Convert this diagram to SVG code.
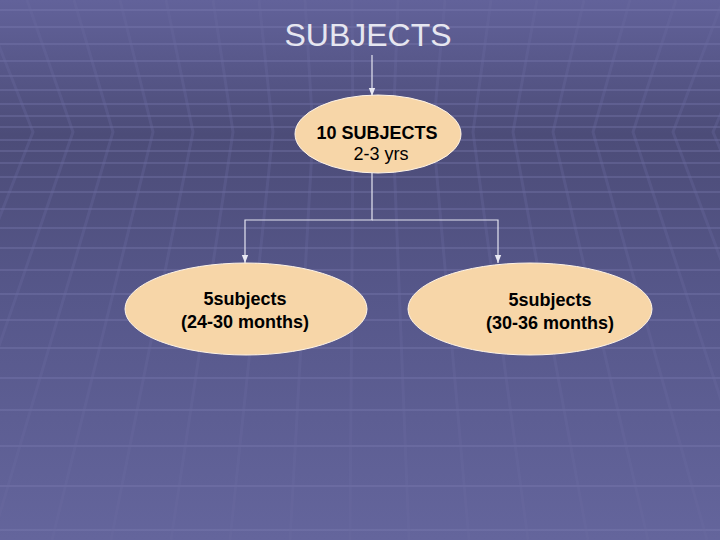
<svg xmlns="http://www.w3.org/2000/svg" width="720" height="540" viewBox="0 0 720 540">
<defs>
<linearGradient id="bg" x1="0" y1="0" x2="0" y2="1">
<stop offset="0" stop-color="#62629a"/>
<stop offset="0.25" stop-color="#4c4c78"/>
<stop offset="0.55" stop-color="#56578a"/>
<stop offset="1" stop-color="#64659c"/>
</linearGradient>
<marker id="arr" viewBox="0 0 8 8" refX="8" refY="4" markerWidth="8" markerHeight="8" markerUnits="userSpaceOnUse" orient="auto">
<path d="M0,0.8 L8,4 L0,7.2 Z" fill="#e8e8f2"/>
</marker>
<style>
.grid-h{stroke:#8282b8;stroke-width:1.5;opacity:0.4;fill:none}
.grid-v{stroke:#6c6ca2;stroke-width:3;opacity:0.3;fill:none}
.conn{stroke:#e4e4f0;stroke-width:1.2;fill:none}
.node{fill:#f7d6a8;stroke:#fff4e6;stroke-width:1}
.lbl{font-family:"Liberation Sans",Arial,sans-serif;fill:#000;text-anchor:middle}
.b{font-weight:bold;font-size:18px}
.r{font-size:18px}
.title{font-family:"Liberation Sans",Arial,sans-serif;font-size:32px;fill:#e6e6f0;text-anchor:middle}
</style>
</defs>
<g id="background">
<rect width="720" height="540" fill="url(#bg)"/>
<g class="grid-h">
<path d="M0 10H720M0 27H720M0 44H720M0 61H720M0 76H720M0 90H720M0 104H720M0 116H720M0 127H720M0 140H720M0 151H720M0 163H720M0 177H720M0 192H720M0 209H720M0 228H720M0 248H720M0 270H720M0 294H720M0 320H720M0 348H720M0 378H720M0 410H720M0 446H720M0 486H720M0 530H720"/>
</g>
<g class="grid-v">
<polyline points="-205,0 -127,132 -366,540"/>
<polyline points="-158,0 -87,132 -306,540"/>
<polyline points="-112,0 -47,132 -247,540"/>
<polyline points="-65,0 -7,132 -187,540"/>
<polyline points="-19,0 33,132 -127,540"/>
<polyline points="27,0 73,132 -68,540"/>
<polyline points="74,0 113,132 -8,540"/>
<polyline points="120,0 153,132 52,540"/>
<polyline points="166,0 193,132 111,540"/>
<polyline points="213,0 233,132 171,540"/>
<polyline points="259,0 273,132 230,540"/>
<polyline points="305,0 313,132 290,540"/>
<polyline points="352,0 353,132 350,540"/>
<polyline points="398,0 393,132 409,540"/>
<polyline points="445,0 433,132 469,540"/>
<polyline points="491,0 473,132 528,540"/>
<polyline points="537,0 513,132 588,540"/>
<polyline points="584,0 553,132 648,540"/>
<polyline points="630,0 593,132 707,540"/>
<polyline points="676,0 633,132 767,540"/>
<polyline points="723,0 673,132 826,540"/>
<polyline points="769,0 713,132 886,540"/>
<polyline points="816,0 753,132 946,540"/>
<polyline points="862,0 793,132 1005,540"/>
</g>
</g>
<text id="title" class="title" x="368" y="46">SUBJECTS</text>
<g id="connectors">
<line class="conn" x1="372" y1="55" x2="372" y2="96" marker-end="url(#arr)"/>
<polyline class="conn" points="372,173 372,220 245,220 245,263" marker-end="url(#arr)"/>
<polyline class="conn" points="372,220 498,220 498,263" marker-end="url(#arr)"/>
</g>
<g id="node-top">
<ellipse class="node" cx="378" cy="134" rx="83" ry="39"/>
<text class="lbl b" x="377" y="139">10 SUBJECTS</text>
<text class="lbl r" x="381" y="159.5">2-3 yrs</text>
</g>
<g id="node-left">
<ellipse class="node" cx="246" cy="309" rx="121" ry="46"/>
<text class="lbl b" x="245" y="305">5subjects</text>
<text class="lbl b" x="245" y="328">(24-30 months)</text>
</g>
<g id="node-right">
<ellipse class="node" cx="530" cy="309" rx="122" ry="46"/>
<text class="lbl b" x="550" y="306">5subjects</text>
<text class="lbl b" x="550" y="329">(30-36 months)</text>
</g>
</svg>
